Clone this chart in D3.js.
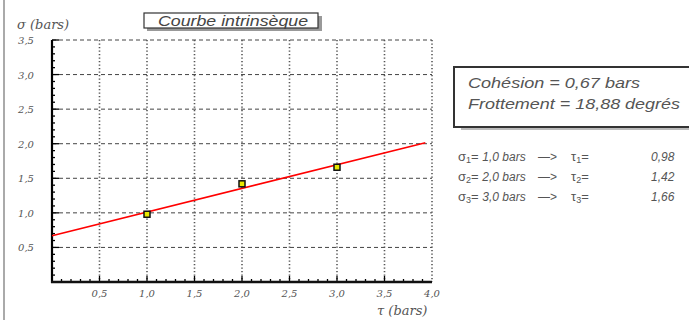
<!DOCTYPE html>
<html><head><meta charset="utf-8">
<script src="https://cdn.jsdelivr.net/npm/d3@7"></script>
<style>body{margin:0;background:#fff}svg{display:block}</style>
</head><body>
<svg id="c" width="689" height="320"></svg>
<script>
const sigma = [1.0, 2.0, 3.0];
const tau = [0.98, 1.42, 1.66];
const cohesion = 0.67;
const frottementDeg = 18.88;
const xTicks = [0.5, 1.0, 1.5, 2.0, 2.5, 3.0, 3.5, 4.0];
const yTicks = [0.5, 1.0, 1.5, 2.0, 2.5, 3.0, 3.5];
const lineEnd = [0, 3.93];
const title = "Courbe intrinsèque";
const infoLines = ["Cohésion = 0,67 bars", "Frottement = 18,88 degrés"];
const resLabels = ["1,0", "2,0", "3,0"];
const resValues = ["0,98", "1,42", "1,66"];

const svg = d3.select("#c");
const x = d3.scaleLinear().domain([0, 4]).range([52, 432]);
const y = d3.scaleLinear().domain([0, 3.5]).range([282, 40]);
const fmt = d => d.toFixed(1).replace(".", ",");
const txtCol = "#555";
const font = "'Liberation Sans', Arial, sans-serif";

// left page border
svg.append("line").attr("x1", 4).attr("x2", 4).attr("y1", 0).attr("y2", 320)
  .attr("stroke", "#aaa").attr("stroke-width", 2);

// grid
const g = svg.append("g");
g.selectAll(".hg").data(yTicks).join("line")
  .attr("x1", x(0)).attr("x2", x(4)).attr("y1", d => y(d)).attr("y2", d => y(d))
  .attr("stroke", "#444").attr("stroke-width", 1).attr("stroke-dasharray", "4,3");
g.selectAll(".vg").data(xTicks).join("line")
  .attr("x1", d => x(d)).attr("x2", d => x(d)).attr("y1", y(3.5)).attr("y2", y(0))
  .attr("stroke", "#555").attr("stroke-width", 1.6).attr("stroke-dasharray", "1.3,2.2");

// minor/major ticks (inside)
const minorX = d3.range(0, 40).map(i => i / 10).filter(v => v > 0);
const minorY = d3.range(0, 35).map(i => i / 10).filter(v => v > 0);
const isMajor = d => Math.abs(d * 2 - Math.round(d * 2)) < 1e-6;
g.selectAll(".tx").data(minorX).join("line")
  .attr("x1", d => x(d)).attr("x2", d => x(d)).attr("y1", y(0))
  .attr("y2", d => y(0) - (isMajor(d) ? 6 : 3))
  .attr("stroke", "#000").attr("stroke-width", 1.3);
g.selectAll(".ty").data(minorY.concat([3.5])).join("line")
  .attr("y1", d => y(d)).attr("y2", d => y(d)).attr("x1", x(0))
  .attr("x2", d => x(0) + (isMajor(d) ? 7 : 3))
  .attr("stroke", "#000").attr("stroke-width", 1.3);

// axes lines
svg.append("line").attr("x1", x(0)).attr("x2", x(0)).attr("y1", y(3.5)).attr("y2", y(0) + 1)
  .attr("stroke", "#000").attr("stroke-width", 2.2);
svg.append("line").attr("x1", x(0) - 1).attr("x2", x(4)).attr("y1", y(0)).attr("y2", y(0))
  .attr("stroke", "#111").attr("stroke-width", 2.6);

// tick labels
svg.selectAll(".xl").data(xTicks).join("text")
  .attr("x", d => x(d)).attr("y", 297).attr("text-anchor", "middle")
  .attr("font-family", "'DejaVu Serif', serif").attr("font-style", "italic")
  .attr("font-size", 10).attr("fill", txtCol).text(fmt);
svg.selectAll(".yl").data(yTicks).join("text")
  .attr("x", 26).attr("y", d => y(d) + 4).attr("text-anchor", "middle")
  .attr("font-family", "'DejaVu Serif', serif").attr("font-style", "italic")
  .attr("font-size", 10).attr("fill", txtCol).text(fmt);

// axis titles
svg.append("text").attr("x", 17).attr("y", 29)
  .attr("font-family", "'DejaVu Serif', serif").attr("font-style", "italic")
  .attr("font-size", 13).attr("fill", txtCol).text("σ (bars)");
svg.append("text").attr("x", 377).attr("y", 315)
  .attr("font-family", "'DejaVu Serif', serif").attr("font-style", "italic")
  .attr("font-size", 13).attr("fill", txtCol).text("τ (bars)");

// fit line
const tanPhi = Math.tan(frottementDeg * Math.PI / 180);
svg.append("line")
  .attr("x1", x(lineEnd[0])).attr("y1", y(cohesion + tanPhi * lineEnd[0]))
  .attr("x2", x(lineEnd[1])).attr("y2", y(cohesion + tanPhi * lineEnd[1]))
  .attr("stroke", "#f00").attr("stroke-width", 1.6);

// points
svg.selectAll(".pt").data(sigma).join("rect")
  .attr("x", (d) => x(d) - 3).attr("y", (d, i) => y(tau[i]) - 3)
  .attr("width", 6).attr("height", 6)
  .attr("fill", "#e8e800").attr("stroke", "#111").attr("stroke-width", 1.5);

// title box
svg.append("rect").attr("x", 147).attr("y", 16).attr("width", 175).attr("height", 15).attr("fill", "#999");
svg.append("rect").attr("x", 144).attr("y", 13).attr("width", 174).attr("height", 15)
  .attr("fill", "#fff").attr("stroke", "#333").attr("stroke-width", 1.2);
svg.append("text").attr("x", 158).attr("y", 25.5)
  .attr("font-family", font).attr("font-style", "italic").attr("font-size", 14)
  .attr("textLength", 150).attr("lengthAdjust", "spacingAndGlyphs")
  .attr("fill", "#444").text(title);

// info box
svg.append("rect").attr("x", 461).attr("y", 127).attr("width", 228).attr("height", 3).attr("fill", "#bbb");
svg.append("rect").attr("x", 454).attr("y", 67).attr("width", 240).attr("height", 60)
  .attr("fill", "#fff").attr("stroke", "#333").attr("stroke-width", 2);
const infoLen = [172, 212];
svg.selectAll(".info").data(infoLines).join("text")
  .attr("x", 468).attr("y", (d, i) => 88 + i * 21)
  .attr("font-family", font).attr("font-style", "italic")
  .attr("font-size", 14).attr("fill", "#555")
  .attr("textLength", (d, i) => infoLen[i]).attr("lengthAdjust", "spacingAndGlyphs")
  .text(d => d);

// result lines
const rg = svg.append("g").attr("font-family", font)
  .attr("font-style", "italic").attr("fill", "#555");
resLabels.forEach((lab, i) => {
  const yy = 161 + i * 20;
  const t = rg.append("text").attr("x", 458).attr("y", yy).attr("font-size", 12);
  t.append("tspan").attr("font-style", "normal").attr("font-size", 13).text("σ");
  t.append("tspan").attr("font-style", "normal").attr("font-size", 9).attr("dy", 2).text(String(i + 1));
  t.append("tspan").attr("dy", -2).attr("font-size", 13).attr("font-style", "normal").text("= ");
  t.append("tspan").text(lab + " bars");
  rg.append("text").attr("x", 538).attr("y", yy).attr("font-size", 12).attr("font-style", "normal").text("—>");
  const t2 = rg.append("text").attr("x", 571).attr("y", yy).attr("font-size", 13).attr("font-style", "normal");
  t2.append("tspan").text("τ");
  t2.append("tspan").attr("font-size", 9).attr("dy", 2).text(String(i + 1));
  t2.append("tspan").attr("dy", -2).text("=");
  rg.append("text").attr("x", 651).attr("y", yy).attr("font-size", 12).text(resValues[i]);
});
</script>
</body></html>
